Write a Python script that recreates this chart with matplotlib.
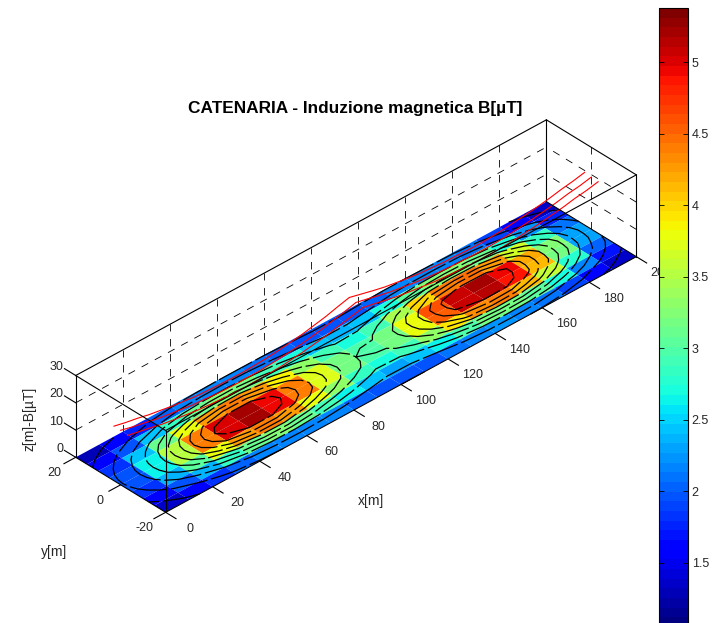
import numpy as np
import matplotlib
matplotlib.use("Agg")
import matplotlib.pyplot as plt
from matplotlib.cm import ScalarMappable
from matplotlib.colors import Normalize

plt.rcParams['font.family'] = ['Liberation Sans', 'DejaVu Sans']
plt.rcParams['font.size'] = 9

# griglia del campo
x_grid = [0, 10, 20, 30, 40, 50, 60, 70, 80, 90, 100, 110, 120, 130, 140, 150, 160, 170, 180, 190, 200]
y_grid = [-20, -17.5, -15, -12.5, -10, -7.5, -5, -2.5, 0, 2.5, 5, 7.5, 10, 12.5, 15, 17.5, 20]

# B[uT], una riga per ogni x, colonne per y
B_values = [
    [1.10, 1.20, 1.30, 1.40, 1.50, 1.60, 1.68, 1.73, 1.75, 1.73, 1.68, 1.60, 1.50, 1.40, 1.30, 1.20, 1.10],
    [1.32, 1.46, 1.60, 1.78, 1.95, 2.10, 2.22, 2.28, 2.30, 2.28, 2.22, 2.10, 1.95, 1.78, 1.60, 1.44, 1.28],
    [1.50, 1.68, 1.88, 2.15, 2.45, 2.72, 2.95, 3.06, 3.10, 3.06, 2.95, 2.75, 2.50, 2.20, 1.90, 1.66, 1.45],
    [1.65, 1.90, 2.20, 2.62, 3.05, 3.50, 3.85, 4.04, 4.10, 4.04, 3.85, 3.52, 3.10, 2.65, 2.22, 1.88, 1.60],
    [1.75, 2.06, 2.45, 3.00, 3.55, 4.15, 4.62, 4.90, 5.00, 4.92, 4.65, 4.18, 3.60, 3.02, 2.48, 2.05, 1.70],
    [1.80, 2.15, 2.58, 3.20, 3.83, 4.45, 4.98, 5.28, 5.38, 5.30, 5.00, 4.48, 3.85, 3.22, 2.60, 2.12, 1.75],
    [1.82, 2.18, 2.60, 3.22, 3.85, 4.45, 4.98, 5.28, 5.38, 5.30, 5.00, 4.48, 3.88, 3.25, 2.62, 2.15, 1.78],
    [1.85, 2.15, 2.50, 3.02, 3.55, 4.08, 4.55, 4.82, 4.90, 4.84, 4.58, 4.12, 3.60, 3.05, 2.52, 2.12, 1.78],
    [1.85, 2.08, 2.35, 2.75, 3.15, 3.58, 3.95, 4.14, 4.20, 4.14, 3.95, 3.60, 3.20, 2.80, 2.40, 2.06, 1.78],
    [1.82, 2.00, 2.22, 2.50, 2.80, 3.08, 3.32, 3.46, 3.50, 3.47, 3.35, 3.12, 2.85, 2.55, 2.25, 1.98, 1.75],
    [1.80, 1.95, 2.12, 2.30, 2.50, 2.70, 2.88, 2.97, 3.00, 2.98, 2.90, 2.74, 2.55, 2.35, 2.15, 1.92, 1.72],
    [1.80, 1.95, 2.12, 2.32, 2.52, 2.74, 2.92, 3.02, 3.05, 3.03, 2.92, 2.76, 2.58, 2.36, 2.15, 1.92, 1.72],
    [1.82, 2.00, 2.22, 2.50, 2.80, 3.08, 3.30, 3.45, 3.50, 3.50, 3.38, 3.15, 2.88, 2.56, 2.25, 1.98, 1.75],
    [1.85, 2.10, 2.40, 2.80, 3.25, 3.68, 4.00, 4.22, 4.30, 4.30, 4.10, 3.75, 3.32, 2.85, 2.42, 2.08, 1.78],
    [1.85, 2.17, 2.55, 3.10, 3.70, 4.30, 4.72, 5.02, 5.12, 5.12, 4.85, 4.35, 3.78, 3.15, 2.58, 2.14, 1.78],
    [1.82, 2.18, 2.60, 3.20, 3.85, 4.48, 4.95, 5.28, 5.38, 5.38, 5.08, 4.55, 3.92, 3.27, 2.62, 2.14, 1.75],
    [1.78, 2.14, 2.55, 3.15, 3.80, 4.42, 4.92, 5.25, 5.35, 5.35, 5.05, 4.52, 3.88, 3.22, 2.58, 2.10, 1.72],
    [1.68, 2.00, 2.35, 2.88, 3.45, 3.98, 4.42, 4.72, 4.80, 4.80, 4.56, 4.08, 3.55, 2.95, 2.38, 1.96, 1.62],
    [1.52, 1.78, 2.05, 2.45, 2.85, 3.22, 3.52, 3.74, 3.80, 3.80, 3.62, 3.30, 2.92, 2.50, 2.08, 1.74, 1.48],
    [1.32, 1.50, 1.70, 1.95, 2.20, 2.45, 2.62, 2.76, 2.80, 2.80, 2.70, 2.50, 2.26, 2.00, 1.72, 1.50, 1.28],
    [1.10, 1.20, 1.32, 1.45, 1.58, 1.70, 1.78, 1.87, 1.90, 1.90, 1.83, 1.72, 1.60, 1.47, 1.35, 1.22, 1.10],
]

contour_levels = [1.4, 1.8, 2.2, 2.6, 3.0, 3.4, 3.8, 4.2, 4.6, 5.0]

# conduttori della catenaria, un punto ogni 5 m
wire_x = [0, 5, 10, 15, 20, 25, 30, 35, 40, 45, 50, 55, 60, 65, 70, 75, 80, 85, 90, 95, 100,
          105, 110, 115, 120, 125, 130, 135, 140, 145, 150, 155, 160, 165, 170, 175, 180, 185, 190, 195, 200]
wire_y = [3, 0, -3]
wire_z_top = [20.0, 19.0, 18.2, 17.2, 16.5, 15.7, 15.2, 14.6, 14.4, 14.2, 14.1, 14.1, 14.3, 14.5, 15.0, 15.6, 16.2,
              17.1, 18.0, 19.2, 20.3, 19.2, 18.1, 17.1, 16.4, 15.7, 15.1, 14.8, 14.4, 14.3, 14.1, 14.0, 14.2, 14.5,
              15.0, 15.5, 16.1, 16.8, 17.7, 18.4, 19.3]
wire_z_mid = [20.0, 18.9, 18.0, 17.0, 16.3, 15.7, 15.0, 14.7, 14.3, 14.1, 14.0, 14.1, 14.2, 14.5, 14.9, 15.4, 16.1,
              16.9, 17.9, 18.9, 20.0, 19.0, 17.9, 17.0, 16.3, 15.6, 15.0, 14.6, 14.3, 14.2, 14.0, 14.0, 14.1, 14.4,
              14.9, 15.4, 16.0, 16.7, 17.6, 18.2, 19.1]
wire_z_low = [19.6, 18.7, 17.8, 16.8, 16.1, 15.5, 14.9, 14.5, 14.2, 14.0, 13.9, 14.0, 14.1, 14.3, 14.8, 15.3, 16.0,
              16.7, 17.7, 18.6, 19.6, 18.7, 17.7, 16.8, 16.1, 15.5, 14.9, 14.5, 14.2, 14.0, 13.9, 13.9, 14.0, 14.3,
              14.8, 15.2, 15.9, 16.5, 17.4, 18.0, 18.9]

x_ticks = [0, 20, 40, 60, 80, 100, 120, 140, 160, 180, 200]
y_ticks = [-20, 0, 20]
z_ticks = [0, 10, 20, 30]
cbar_ticks = [1.5, 2, 2.5, 3, 3.5, 4, 4.5, 5]
cbar_labels = ['1.5', '2', '2.5', '3', '3.5', '4', '4.5', '5']

W, H = 716, 623
fig = plt.figure(figsize=(W / 100, H / 100), dpi=100)
ax = fig.add_axes([-10.4 / W, -13 / H, 1, 1], projection='3d', computed_zorder=False, proj_type='ortho')
ax.view_init(elev=35.2, azim=-133.3)
ax.set_box_aspect((646, 131, 100), zoom=1.04)
ax.set_xlim(0, 200, view_margin=0)
ax.set_ylim(-20, 20, view_margin=0)
ax.set_zlim(0, 30, view_margin=0)
ax.set_xticks([])
ax.set_yticks([])
ax.set_zticks([])
ax.set_axis_off()

X = np.array(x_grid, dtype=float)
Y = np.array(y_grid, dtype=float)
B = np.array(B_values)
XX, YY = np.meshgrid(X, Y, indexing='ij')

cmap = plt.get_cmap('jet', 64)
norm = Normalize(vmin=1.05, vmax=5.38)

K = dict(color='k', lw=0.8, zorder=1)
D = dict(color='k', lw=0.6, ls=(0, (9, 9)), zorder=1)

# griglia tratteggiata sulle pareti di fondo
for xt in x_ticks[1:-1]:
    ax.plot([xt, xt], [20, 20], [0, 30], **D)
for zt in z_ticks[1:-1]:
    ax.plot([0, 200], [20, 20], [zt, zt], **D)
    ax.plot([200, 200], [-20, 20], [zt, zt], **D)
ax.plot([200, 200], [0, 0], [0, 30], **D)

# spigoli posteriori
ax.plot([0, 200], [20, 20], [30, 30], **K)
ax.plot([200, 200], [-20, 20], [30, 30], **K)
ax.plot([0, 0], [20, 20], [0, 30], **K)
ax.plot([200, 200], [20, 20], [0, 30], **K)

# superficie piana a z=0, colorata con B (celle 10 x 5 m)
B5 = B[:, ::2]
face_B = 0.25 * (B5[:-1, :-1] + B5[1:, :-1] + B5[:-1, 1:] + B5[1:, 1:])
ax.plot_surface(XX[:, ::2], YY[:, ::2], np.zeros_like(XX[:, ::2]), facecolors=cmap(norm(face_B)),
                rstride=1, cstride=1, shade=False, linewidth=0, zorder=2)
ax.contour(XX, YY, B, levels=contour_levels, zdir='z', offset=0, colors='k', linewidths=0.9,
           linestyles=[(0, (30, 3))], zorder=3)

for wy, wz in zip(wire_y, [wire_z_top, wire_z_mid, wire_z_low]):
    ax.plot(wire_x, [wy] * len(wire_x), wz, color='red', lw=0.8, zorder=4)

# spigoli anteriori
F = dict(color='k', lw=0.8, zorder=5)
ax.plot([0, 0], [-20, -20], [0, 30], **F)
ax.plot([200, 200], [-20, -20], [0, 30], **F)
ax.plot([0, 0], [-20, 20], [30, 30], **F)
ax.plot([0, 200], [-20, -20], [30, 30], **F)
ax.plot([0, 200], [-20, -20], [0, 0], **F)
ax.plot([0, 0], [-20, 20], [0, 0], **F)
ax.plot([200, 200], [-20, 20], [0, 0], **F)

# tacche ed etichette
TC = '#262626'
for xt in x_ticks:
    ax.plot([xt, xt], [-20, -24.6], [0, 0], **F)
    ax.text(xt, -31, -0.5, str(xt), ha='center', va='center', color=TC, zorder=6)
for yt in y_ticks:
    ax.plot([0, -5], [yt, yt], [0, 0], **F)
    ax.text(-9, yt, -1.7, str(yt), ha='center', va='center', color=TC, zorder=6)
for zt in z_ticks:
    ax.plot([0, 0], [20, 25], [zt, zt], **F)
    ax.text(0, 25.5, zt + 0.3, str(zt), ha='right', va='center', color=TC, zorder=6)

fig.text(355 / W, 1 - 109 / H, 'CATENARIA - Induzione magnetica B[µT]', ha='center', va='center',
         fontsize=12.4, fontweight='bold', color='k')
fig.text(371 / W, 1 - 501 / H, 'x[m]', ha='center', va='center', color=TC, fontsize=10)
fig.text(54 / W, 1 - 552 / H, 'y[m]', ha='center', va='center', color=TC, fontsize=10)
fig.text(30 / W, 1 - 419 / H, 'z[m]-B[µT]', ha='center', va='center', rotation=90, color=TC, fontsize=10)

# barra colori, sborda sotto la figura
cax = fig.add_axes([658.5 / W, 1 - 627 / H, 29 / W, 619 / H])
cb = fig.colorbar(ScalarMappable(norm=norm, cmap=cmap), cax=cax, ticks=cbar_ticks)
cb.set_ticklabels(cbar_labels)
cb.minorticks_off()
cb.outline.set_linewidth(0.8)
cax.tick_params(left=True, right=True, direction='in', length=3.5, width=0.6, labelsize=9,
                labelcolor=TC, pad=3)

fig.savefig('out.png', dpi=100)
